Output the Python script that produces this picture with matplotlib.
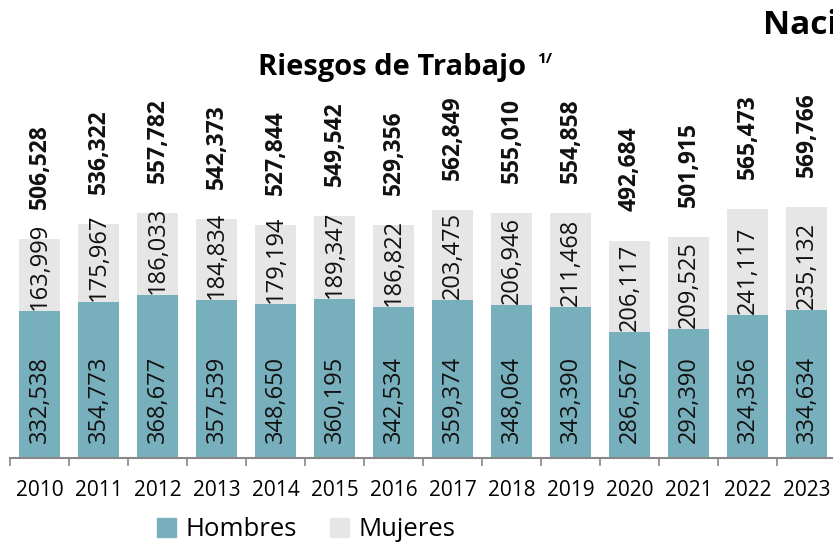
import matplotlib.pyplot as plt
from matplotlib.patches import Patch

plt.rcParams['font.family'] = ['Open Sans', 'DejaVu Sans']

years = ['2010', '2011', '2012', '2013', '2014', '2015', '2016',
         '2017', '2018', '2019', '2020', '2021', '2022', '2023']
hombres = [332538, 354773, 368677, 357539, 348650, 360195, 342534,
           359374, 348064, 343390, 286567, 292390, 324356, 334634]
mujeres = [163999, 175967, 186033, 184834, 179194, 189347, 186822,
           203475, 206946, 211468, 206117, 209525, 241117, 235132]
totales = [506528, 536322, 557782, 542373, 527844, 549542, 529356,
           562849, 555010, 554858, 492684, 501915, 565473, 569766]

c_hom = '#78afbc'
c_muj = '#e6e6e6'

W, H = 833, 544
fig = plt.figure(figsize=(W / 100, H / 100), dpi=100)
# ejes en pixeles: izquierda 10, base 458 (desde arriba), ancho 14*59
ax = fig.add_axes([10 / W, (H - 458) / H, 826 / W, 380 / H])

x = list(range(len(years)))
ax.bar(x, hombres, width=0.69, color=c_hom, edgecolor='none')
ax.bar(x, mujeres, width=0.69, bottom=hombres, color=c_muj, edgecolor='none')

ax.set_xlim(-0.5, len(years) - 0.5)
ax.set_ylim(0, 380 / 4.41e-4)

for i in x:
    ax.annotate(f'{hombres[i]:,}', (i, 0), xytext=(0, 15), textcoords='offset pixels',
                rotation=90, ha='center', va='bottom', fontsize=17, color='#111111')
    ax.annotate(f'{mujeres[i]:,}', (i, hombres[i]), xytext=(0, 1), textcoords='offset pixels',
                rotation=90, ha='center', va='bottom', fontsize=17, color='#111111')
    ax.annotate(f'{totales[i]:,}', (i, hombres[i] + mujeres[i]), xytext=(0, 30),
                textcoords='offset pixels', rotation=90, ha='center', va='bottom',
                fontsize=16.5, fontweight='bold', color='#111111')

for s in ['top', 'right', 'left']:
    ax.spines[s].set_visible(False)
ax.spines['bottom'].set_color('#888888')
ax.spines['bottom'].set_linewidth(1.5)
ax.set_yticks([])
ax.set_xticks(x)
ax.set_xticklabels(years, fontsize=15)
ax.tick_params(axis='x', length=0, pad=16)
ax.set_xticks([i - 0.5 for i in x] + [len(years) - 0.5], minor=True)
ax.tick_params(axis='x', which='minor', length=6, width=1.2, color='#888888', direction='out')

fig.text(392 / W, 1 - 68 / H, 'Riesgos de Trabajo', ha='center', va='center',
         fontsize=21, fontweight='bold')
fig.text(537 / W, 1 - 59 / H, '1/', ha='left', va='center', fontsize=11, fontweight='bold')
fig.text(763 / W, 1 - 25 / H, 'Nacional', ha='left', va='center', fontsize=24, fontweight='bold')

handles = [Patch(color=c_hom, label='Hombres'), Patch(color=c_muj, label='Mujeres')]
fig.legend(handles=handles, loc='center', bbox_to_anchor=(306 / W, 1 - 530 / H), ncol=2,
           frameon=False, fontsize=18.5, handlelength=0.75, handleheight=0.75,
           handletextpad=0.35, columnspacing=1.3)

fig.savefig('out.png', dpi=100)
